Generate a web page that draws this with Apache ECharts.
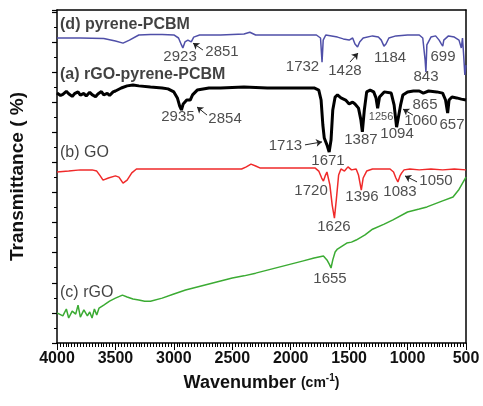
<!DOCTYPE html>
<html>
<head>
<meta charset="UTF-8">
<title>FTIR spectra</title>
<script src="https://cdn.jsdelivr.net/npm/echarts@6/dist/echarts.min.js"></script>
<style>
  html, body { margin: 0; padding: 0; background: #fff; }
  #chart { width: 483px; height: 406px; }
</style>
</head>
<body>
<div id="chart"></div>
<script>
// spectra: [wavenumber, transmittance (arb. units)]
const pyrenePCBM = [
  [4000,101.3],[3800,101.3],[3600,101.1],[3500,100.3],[3435,99.6],[3380,100.6],[3300,102.3],
  [3200,102.5],[3100,102.5],[3000,102.3],[2960,101.3],[2935,99.0],[2923,98.0],[2905,100.0],
  [2880,100.6],[2851,100.0],[2830,101.6],[2780,102.3],[2600,102.3],[2400,102.6],[2350,103.2],
  [2300,102.3],[2100,102.3],[1900,102.3],[1780,102.3],[1745,101.3],[1732,93.3],[1722,100.6],
  [1700,102.3],[1600,101.6],[1550,101.0],[1500,100.6],[1470,101.3],[1450,99.3],[1428,98.3],
  [1410,100.0],[1380,101.3],[1300,102.0],[1250,101.6],[1225,100.6],[1202,98.6],[1185,99.3],
  [1160,101.3],[1100,102.0],[1000,102.3],[900,102.3],[870,101.3],[850,94.0],[843,90.0],
  [835,99.0],[800,101.6],[760,102.0],[730,100.6],[710,99.3],[699,98.6],[690,100.6],[650,102.0],
  [600,101.6],[560,100.6],[540,98.0],[530,101.3],[520,95.6],[510,89.0],[500,92.3]
];
const rgoPyrenePCBM = [
  [4000,83.0],[3970,82.2],[3950,82.6],[3920,83.6],[3900,82.8],[3870,81.9],[3850,82.8],
  [3820,83.4],[3800,82.3],[3770,82.9],[3750,82.0],[3720,83.3],[3700,82.5],[3670,81.8],
  [3650,82.7],[3620,83.5],[3600,82.4],[3570,82.9],[3550,82.2],[3520,83.4],[3500,83.7],
  [3450,84.7],[3400,85.4],[3350,85.7],[3300,85.4],[3200,85.0],[3100,84.7],[3050,84.4],
  [3000,83.4],[2970,81.4],[2950,78.7],[2935,77.4],[2920,79.4],[2890,80.7],[2860,80.7],
  [2840,82.4],[2800,84.0],[2700,84.7],[2600,84.7],[2400,85.0],[2200,84.7],[2000,84.7],
  [1900,84.7],[1800,84.7],[1760,84.0],[1740,80.7],[1725,72.4],[1713,68.1],[1690,65.8],
  [1671,63.4],[1655,67.4],[1640,77.4],[1620,81.7],[1600,82.4],[1570,81.4],[1530,80.7],
  [1500,79.4],[1470,80.0],[1450,79.4],[1420,78.0],[1400,74.2],[1387,70.1],[1370,77.4],
  [1350,83.4],[1320,84.0],[1290,83.4],[1270,81.4],[1256,78.0],[1240,81.7],[1200,83.4],
  [1140,83.0],[1115,79.0],[1094,71.7],[1075,75.7],[1060,79.0],[1040,82.4],[1000,83.4],
  [950,83.7],[900,83.7],[865,83.0],[820,83.7],[750,83.4],[700,83.0],[675,80.7],[657,76.4],
  [645,80.7],[620,81.7],[580,81.4],[540,81.0],[500,80.7]
];
const go = [
  [4000,56.8],[3900,57.1],[3800,57.5],[3700,57.5],[3660,57.1],[3630,55.5],[3606,54.1],
  [3560,54.8],[3500,55.5],[3470,55.1],[3435,53.1],[3400,54.1],[3360,56.5],[3320,57.8],
  [3200,57.8],[3000,57.8],[2800,57.8],[2600,57.8],[2420,57.8],[2380,58.5],[2340,59.4],
  [2300,58.8],[2260,58.1],[2100,58.1],[1900,58.1],[1790,58.1],[1760,57.1],[1735,54.8],
  [1720,53.8],[1705,55.5],[1690,56.8],[1665,52.5],[1645,45.8],[1626,41.5],[1610,47.5],
  [1590,55.8],[1570,57.8],[1540,57.1],[1510,58.5],[1480,57.5],[1440,57.8],[1420,55.8],
  [1396,50.8],[1380,54.8],[1350,57.1],[1300,57.8],[1200,57.8],[1150,57.8],[1120,56.8],
  [1100,54.8],[1083,53.5],[1065,55.5],[1050,56.5],[1030,57.5],[980,57.8],[900,57.5],
  [800,57.8],[700,57.5],[600,57.8],[500,57.5]
];
const rgo = [
  [4000,10.0],[3950,9.0],[3920,11.3],[3900,8.3],[3870,10.6],[3840,9.6],[3820,12.6],
  [3800,8.6],[3770,11.0],[3740,9.0],[3720,10.3],[3700,8.3],[3680,11.3],[3660,9.3],
  [3640,11.6],[3600,12.6],[3550,13.9],[3500,14.9],[3440,15.9],[3400,15.3],[3350,14.6],
  [3300,14.3],[3250,13.9],[3200,13.9],[3100,14.9],[3000,16.3],[2900,17.6],[2800,18.6],
  [2700,19.6],[2600,20.6],[2500,21.6],[2400,22.3],[2300,23.2],[2200,24.2],[2100,25.2],
  [2000,26.2],[1900,27.2],[1800,28.2],[1720,28.9],[1690,27.6],[1670,26.2],[1655,24.9],
  [1640,27.6],[1620,30.2],[1600,31.2],[1560,32.2],[1520,33.2],[1480,33.5],[1440,34.2],
  [1364,35.9],[1300,37.8],[1200,39.5],[1125,40.9],[1000,43.5],[900,44.5],[834,45.2],
  [700,47.2],[611,48.5],[560,51.0],[500,55.1]
];

// curve names and peak labels: [wavenumber, value, text]
const curveNames = [
  [3974,105.9,'(d) pyrene-PCBM','bold'],
  [3974,89.0,'(a) rGO-pyrene-PCBM','bold'],
  [3974,63.1,'(b) GO','normal'],
  [3974,16.9,'(c) rGO','normal']
];
const peakLabels = [
  [2947,95.0,'2923'],[2588,96.6,'2851'],[2965,75.1,'2935'],[2562,74.4,'2854'],
  [1899,91.7,'1732'],[1536,90.3,'1428'],[1150,94.7,'1184'],[842,88.3,'843'],[697,95.0,'699'],
  [2045,65.4,'1713'],[1681,60.4,'1671'],[1399,67.4,'1387'],[1090,69.4,'1094'],
  [851,79.0,'865'],[885,73.7,'1060'],[620,72.4,'657'],
  [1826,50.5,'1720'],[1630,38.5,'1626'],[1390,48.5,'1396'],[1065,50.1,'1083'],[757,53.8,'1050'],
  [1664,21.3,'1655']
];
const smallLabels = [[1227,75.1,'1256']];
// arrows: [fromW, fromV, toW, toV]
const arrows = [
  [2751,97.3,2836,99.6],[2716,75.7,2802,78.4],[1493,93.3,1424,96.3],
  [1878,65.8,1732,66.8],[954,75.7,1039,77.7],[919,53.5,1022,55.5]
];

// the axis runs from high to low wavenumber: plot against -wavenumber
const flip = arr => arr.map(d => [-d[0], d[1]]);

const chart = echarts.init(document.getElementById('chart'));
const font = 'Liberation Sans, Arial, sans-serif';
const black = { color: '#000', width: 1.5 };

function curve(name, data, color, width) {
  return {
    name, type: 'line', data: flip(data), showSymbol: false, symbol: 'none',
    lineStyle: { color, width }, z: 2
  };
}

chart.setOption({
  animation: false,
  grid: { left: 57, right: 17, top: 10, bottom: 63 },
  xAxis: [{
    type: 'value', min: -4000, max: -500, interval: 500, position: 'bottom',
    name: '{a|Wavenumber }{b|(cm}{c|-1}{b|)}',
    nameLocation: 'middle', nameGap: 30,
    nameTextStyle: {
      rich: {
        a: { fontFamily: font, fontWeight: 'bold', fontSize: 18, color: '#111' },
        b: { fontFamily: font, fontWeight: 'bold', fontSize: 14, color: '#111' },
        c: { fontFamily: font, fontWeight: 'bold', fontSize: 10, color: '#111', padding: [0, 0, 11, 0] }
      }
    },
    axisLine: { onZero: false, lineStyle: black },
    axisTick: { show: true, length: 7 },
    minorTick: { show: true, splitNumber: 20, length: 4 },
    axisLabel: { fontFamily: font, fontWeight: 'bold', fontSize: 16, color: '#111', margin: 8,
      formatter: v => String(-v) },
    splitLine: { show: false }
  }, {
    // top border
    type: 'value', min: -4000, max: -500, position: 'top',
    axisLine: { onZero: false, lineStyle: black },
    axisTick: { show: false }, axisLabel: { show: false }, splitLine: { show: false }
  }],
  yAxis: [{
    type: 'value', min: 0, max: 110.6, interval: 10, position: 'left',
    name: 'Transmittance ( %)', nameLocation: 'middle', nameGap: 30,
    nameTextStyle: { fontFamily: font, fontWeight: 'bold', fontSize: 19, color: '#111' },
    axisLine: { onZero: false, lineStyle: black },
    axisTick: { length: 5, lineStyle: { color: '#000', width: 1.2 } },
    minorTick: { show: true, splitNumber: 2, length: 3, lineStyle: { color: '#000', width: 1 } },
    axisLabel: { show: false },
    splitLine: { show: false }
  }, {
    // right border
    type: 'value', min: 0, max: 110.6, position: 'right',
    axisLine: { show: true, onZero: false, lineStyle: black },
    axisTick: { show: false }, axisLabel: { show: false }, splitLine: { show: false }
  }],
  series: [
    curve('pyrene-PCBM', pyrenePCBM, '#4f4fa8', 1.5),
    curve('rGO-pyrene-PCBM', rgoPyrenePCBM, '#000000', 3),
    curve('GO', go, '#f02a2a', 1.5),
    curve('rGO', rgo, '#3bab33', 1.5),
    {
      type: 'scatter', symbolSize: 0, z: 5,
      data: curveNames.map(d => ({ value: [-d[0], d[1]], name: d[2],
        label: { fontWeight: d[3] } })),
      label: {
        show: true, position: 'inside', align: 'left', verticalAlign: 'middle',
        formatter: p => p.name, fontFamily: font, fontSize: 16, color: '#111'
      }
    },
    {
      type: 'scatter', symbolSize: 0, z: 5,
      data: peakLabels.map(d => ({ value: [-d[0], d[1]], name: d[2] })),
      label: {
        show: true, position: 'inside', align: 'center', verticalAlign: 'middle',
        formatter: p => p.name, fontFamily: font, fontSize: 15, color: '#222'
      },
      markLine: {
        silent: true, symbol: ['none', 'arrow'], symbolSize: 6,
        label: { show: false },
        lineStyle: { color: '#222', width: 1, type: 'solid' },
        data: arrows.map(a => [{ coord: [-a[0], a[1]] }, { coord: [-a[2], a[3]] }])
      }
    },
    {
      type: 'scatter', symbolSize: 0, z: 5,
      data: smallLabels.map(d => ({ value: [-d[0], d[1]], name: d[2] })),
      label: {
        show: true, position: 'inside', align: 'center', verticalAlign: 'middle',
        formatter: p => p.name, fontFamily: font, fontSize: 11, color: '#222'
      }
    }
  ]
});
</script>
</body>
</html>
